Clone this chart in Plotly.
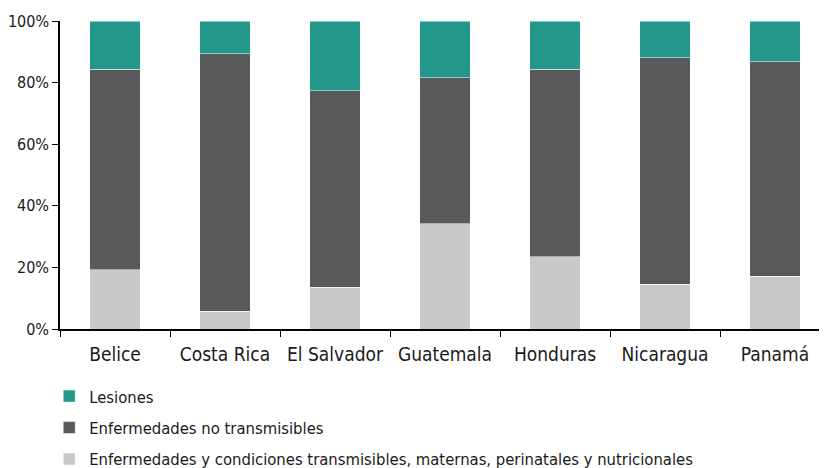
import plotly.graph_objects as go

paises = ["Belice", "Costa Rica", "El Salvador", "Guatemala", "Honduras", "Nicaragua", "Panamá"]

# porcentajes
transmisibles = [19.2, 5.8, 13.6, 34.1, 23.4, 14.6, 17.2]
no_transmisibles = [65.2, 83.5, 63.7, 47.4, 61.0, 73.4, 69.5]
lesiones = [15.6, 10.7, 22.7, 18.5, 15.6, 12.0, 13.3]

fuente = "DejaVu Sans Condensed, Liberation Sans Narrow, sans-serif"

fig = go.Figure()
# (nombre, valores, color, posicion en la leyenda)
series = [
    ("Enfermedades y condiciones transmisibles, maternas, perinatales y nutricionales", transmisibles, "#c8c9cb", 3),
    ("Enfermedades no transmisibles", no_transmisibles, "#58595b", 2),
    ("Lesiones", lesiones, "#23978a", 1),
]
for nombre, valores, color, rank in series:
    fig.add_trace(go.Bar(
        x=paises, y=valores, name=nombre, legendgroup=nombre, legendrank=rank,
        marker=dict(color=color, line=dict(color="rgba(255,255,255,0.5)", width=1)),
        width=0.46,
    ))

# la pagina tiene 8px de margen en el body, por eso l y t van corridos
fig.update_layout(
    barmode="stack",
    width=827, height=468,
    margin=dict(l=52, r=5, t=13, b=147, autoexpand=False),
    plot_bgcolor="white", paper_bgcolor="white",
    font=dict(family=fuente, size=17, color="#1a1a1a"),
    legend=dict(
        orientation="v", traceorder="grouped", tracegroupgap=7,
        x=-0.014, y=-0.162, xanchor="left", yanchor="top",
        font=dict(size=16.5), itemwidth=30,
    ),
)
fig.update_xaxes(
    showline=True, linecolor="black", linewidth=1.5, automargin=False,
    ticks="outside", tickson="boundaries", ticklen=6, tickcolor="black",
    range=[-0.5, 6.5], tickfont=dict(size=19), ticklabelstandoff=7,
)
fig.update_yaxes(
    range=[0, 100], dtick=20, ticksuffix="%", automargin=False,
    showline=True, linecolor="black", linewidth=1.5,
    ticks="outside", ticklen=6, tickcolor="black",
    showgrid=False, zeroline=False, tickfont=dict(size=16),
)

fig.write_html("out.html")
